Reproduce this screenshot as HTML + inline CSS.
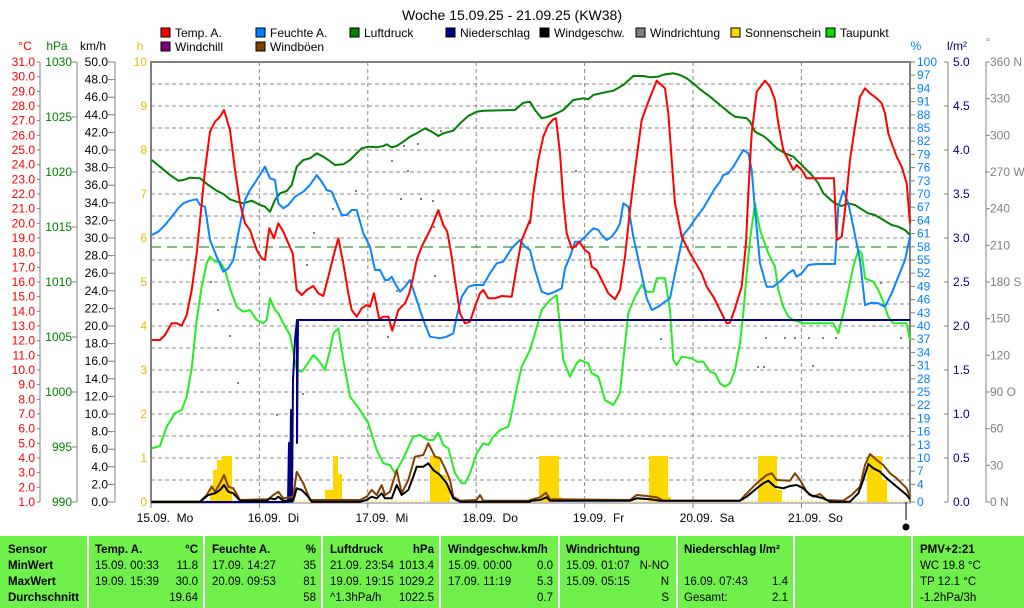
<!DOCTYPE html>
<html><head><meta charset="utf-8"><style>
body{margin:0;background:#fff;width:1024px;height:608px;overflow:hidden;font-family:"Liberation Sans",sans-serif}
svg{position:absolute;left:0;top:0}
text{font-family:"Liberation Sans",sans-serif;font-size:12px}
.b{font-weight:bold}
#tbl text{font-size:11.5px}
</style></head><body>
<svg id="s" width="1024" height="608" xmlns="http://www.w3.org/2000/svg">
<text x="512" y="20" text-anchor="middle" style="font-size:14px">Woche 15.09.25 - 21.09.25 (KW38)</text>
<g id="leg"></g>
<g id="grid"></g>
<g id="axes"></g>
<g id="data"></g>
<rect x="0" y="536" width="1024" height="72" fill="#6FF04B"/>
<g fill="#fff"><rect x="87" y="536" width="2" height="72"/><rect x="203" y="536" width="2" height="72"/><rect x="321" y="536" width="2" height="72"/><rect x="439" y="536" width="2" height="72"/><rect x="558" y="536" width="2" height="72"/><rect x="676" y="536" width="2" height="72"/><rect x="793" y="536" width="2" height="72"/><rect x="911" y="536" width="2" height="72"/></g>
<g id="tbl"></g>
</svg>
<script>
var S=document.getElementById('s'),NS='http://www.w3.org/2000/svg';
function el(p,t,a,txt){var e=document.createElementNS(NS,t);for(var k in a)e.setAttribute(k,a[k]);if(txt!==undefined)e.textContent=txt;document.getElementById(p).appendChild(e);return e;}
function T(p,x,y,s,fill,anchor,cls){return el(p,'text',{x:x,y:y,fill:fill||'#000','text-anchor':anchor||'start','class':cls||''},s);}
var L=[['Temp. A.','#ff0000',161,37],['Feuchte A.','#0080ff',256,37],['Luftdruck','#008000',350,37],['Niederschlag','#000080',446,37],['Windgeschw.','#000000',540,37],['Windrichtung','#808080',636,37],['Sonnenschein','#ffd700',731,37],['Taupunkt','#00e000',826,37],['Windchill','#800080',161,51],['Windböen','#804000',256,51]];
L.forEach(function(l){el('leg','rect',{x:l[2],y:l[3]-9,width:9,height:9,fill:l[1],stroke:'#000','stroke-width':1});T('leg',l[2]+14,l[3],l[0]);});
for(var i=1;i<20;i++){var y=62+i*22;el('grid','line',{x1:151,x2:910,y1:y,y2:y,stroke:'#888','stroke-dasharray':'4,3'});}
for(var d=1;d<7;d++){var x=151+d*108.4;el('grid','line',{x1:x,x2:x,y1:62,y2:502,stroke:'#888','stroke-dasharray':'4,3'});}
el('grid','line',{x1:151,x2:910,y1:247,y2:247,stroke:'#008000','stroke-dasharray':'10,6'});
// wind direction dots
[[210,281],[217,309],[229,335],[237,382],[276,414],[302,393],[306,264],[313,232],[332,208],[355,190],[391,160],[403,145],[417,143],[407,170],[420,198],[432,200],[433,226],[440,130],[400,198],[434,275],[396,290],[387,336],[575,170],[790,158],[660,338],[670,330],[765,337],[784,337],[794,337],[808,337],[822,337],[835,337],[812,365],[900,337],[908,335],[757,366],[763,366],[880,282]].forEach(function(p){el('grid','rect',{x:p[0],y:p[1],width:2,height:2,fill:'#808080'});});
el('axes','path',{d:'M151,502V62H910V502',fill:'none',stroke:'#808080','stroke-width':2});
el('axes','line',{x1:150,x2:911,y1:503,y2:503,stroke:'#808080','stroke-width':1});
T('axes',25,50,'°C','#ff0000','middle');T('axes',57,50,'hPa','#008000','middle');T('axes',93,50,'km/h','#000','middle');T('axes',140,50,'h','#e0c000','middle');
el('axes','line',{x1:40,x2:40,y1:62,y2:502,stroke:'#808080'});
for(var v=31;v>=1;v--){var y=62+(31-v)*440/30;T('axes',35,y+4,v.toFixed(1),'#ff0000','end');el('axes','line',{x1:37,x2:40,y1:y,y2:y,stroke:'#808080'});}
el('axes','line',{x1:77,x2:77,y1:62,y2:502,stroke:'#808080'});
for(var v=1030;v>=990;v-=5){var y=62+(1030-v)*11;T('axes',72,y+4,v,'#008000','end');el('axes','line',{x1:72,x2:77,y1:y,y2:y,stroke:'#808080'});}
el('axes','line',{x1:115,x2:115,y1:62,y2:502,stroke:'#808080'});
for(var v=50;v>=0;v-=2){var y=62+(50-v)*8.8;T('axes',108,y+4,v.toFixed(1),'#000','end');el('axes','line',{x1:108,x2:115,y1:y,y2:y,stroke:'#808080'});}
for(var v=10;v>=0;v--){var y=62+(10-v)*44;T('axes',147,y+4,v,'#e0c000','end');}
T('axes',916,50,'%','#0080ff','middle');T('axes',957,50,'l/m²','#000080','middle');T('axes',988,46,'°','#808080','middle');
var pv=[];for(var v=100;v>=4;v-=3)pv.push(v);pv.push(0);
pv.forEach(function(v){var y=502-v*4.4;T('axes',917,y+4,v,'#0080ff');el('axes','line',{x1:910,x2:915,y1:y,y2:y,stroke:'#808080'});});
el('axes','line',{x1:948,x2:948,y1:62,y2:502,stroke:'#808080'});
for(var v=5;v>=0;v-=0.5){var y=502-v*88;T('axes',953,y+4,v.toFixed(1),'#000080');el('axes','line',{x1:944,x2:948,y1:y,y2:y,stroke:'#808080'});}
el('axes','line',{x1:986,x2:986,y1:62,y2:502,stroke:'#808080'});
var dl={360:'360 N',270:'270 W',180:'180 S',90:'90 O',0:'0 N'};
for(var v=360;v>=0;v-=30){var y=502-v*440/360;T('axes',990,y+4,dl[v]||v,'#808080');el('axes','line',{x1:986,x2:990,y1:y,y2:y,stroke:'#808080'});}
var days=['15.09.  Mo','16.09.  Di','17.09.  Mi','18.09.  Do','19.09.  Fr','20.09.  Sa','21.09.  So'];
days.forEach(function(s,i){var x=151+i*108.4;el('axes','line',{x1:x,x2:x,y1:503,y2:508,stroke:'#808080'});T('axes',x+14,522,s.replace(/  /,'\u00a0\u00a0'),'#000','middle');});
el('axes','line',{x1:906,x2:906,y1:502,y2:520,stroke:'#000'});
el('axes','circle',{cx:906,cy:527,r:3.5,fill:'#000'});
function Z1(a){return a.map(function(p){return (150+p[0]/3).toFixed(1)+','+(60+p[1]/3).toFixed(1)}).join(' ');}
function Z2(a){return a.map(function(p){return (530+p[0]/3).toFixed(1)+','+(60+p[1]/3).toFixed(1)}).join(' ');}
function PL(pts,c,w){el('data','polyline',{points:pts,fill:'none',stroke:c,'stroke-width':w||2,'stroke-linejoin':'round'});}
[[210,485,3],[213,470,4],[217,460,5],[222,456,10],[325,490,8],[333,456,5],[338,474,4],[430,456,10],[440,475,7],[447,485,3],[539,456,20],[559,497,3],[649,456,19],[668,497,3],[758,456,19],[777,490,5],[867,456,15],[882,480,5]].forEach(function(b){el('data','rect',{x:b[0],y:b[1],width:b[2],height:502-b[1],fill:'#ffd700'});});
el('data','line',{x1:151,x2:910,y1:501,y2:501,stroke:'#ffd700','stroke-dasharray':'2,2'});
PL(Z1([[5,1165],[30,1158],[50,1100],[75,1060],[95,1050],[110,1010],[125,925],[140,780],[155,680],[170,610],[180,590],[195,605],[210,605],[225,630],[240,685],[260,740],[280,755],[300,750],[320,780],[340,790],[350,780],[360,715],[375,750],[385,760],[400,790],[420,825],[440,930],[455,935],[470,915],[490,885],[505,900],[525,930],[540,870],[550,820],[565,805],[580,900],[600,1010],[630,1050],[655,1090],[680,1170],[700,1210],[720,1215],[735,1240],[760,1195],[790,1130],[810,1125],[835,1140],[850,1140],[865,1118],[880,1155],[895,1165],[915,1240],[935,1270],[945,1270],[960,1240],[980,1180],[1000,1150],[1015,1155],[1030,1130],[1050,1110],[1075,1100],[1085,1060],[1100,985],[1115,920],[1140,870]])+' '+Z2([[0,870],[15,820],[35,750],[60,720],[80,705],[90,800],[100,900],[120,950],[140,910],[150,900],[175,910],[185,940],[205,950],[225,1020],[250,1035],[270,1000],[280,900],[295,760],[315,710],[335,675],[350,695],[370,695],[380,655],[405,655],[420,750],[430,900],[440,915],[455,890],[485,895],[500,905],[520,905],[540,935],[555,940],[570,970],[585,980],[600,970],[615,930],[630,850],[640,760],[650,640],[660,540],[675,430],[690,510],[715,580],[735,620],[745,690],[760,740],[775,770],[790,780],[820,790],[910,790],[925,820],[940,760],[955,690],[970,620],[985,570],[995,580],[1005,655],[1030,665],[1045,690],[1060,725],[1075,770],[1090,790],[1130,790],[1140,840]]),'#22ee22');
PL(Z1([[5,300],[30,320],[60,345],[85,362],[100,360],[120,353],[150,355],[175,375],[200,392],[220,402],[240,418],[260,425],[280,430],[305,422],[330,435],[345,440],[360,455],[375,420],[390,400],[410,393],[425,375],[440,320],[460,300],[480,295],[500,280],[520,290],[535,300],[555,315],[580,313],[600,300],[615,285],[635,265],[655,260],[680,262],[700,258],[710,253],[725,262],[740,258],[760,245],[780,230],[800,220],[825,205],[845,215],[865,228],[880,220],[910,212],[935,185],[955,168],[980,155],[1000,152],[1095,150],[1120,128],[1140,125]])+' '+Z2([[0,125],[15,150],[35,175],[55,170],[80,160],[100,150],[130,120],[160,115],[175,118],[190,105],[220,98],[250,92],[280,75],[310,48],[340,48],[360,52],[385,50],[400,44],[430,40],[450,45],[470,55],[490,70],[510,88],[540,110],[570,135],[600,160],[615,170],[650,175],[660,185],[675,215],[700,228],[715,240],[740,265],[765,280],[790,290],[810,310],[830,330],[845,345],[865,370],[880,400],[900,418],[915,430],[935,438],[955,430],[975,435],[995,448],[1015,460],[1035,465],[1060,480],[1085,495],[1105,500],[1125,510],[1140,525]]),'#008000');
PL(Z1([[5,525],[25,515],[45,495],[65,470],[85,445],[100,430],[120,422],[140,418],[150,435],[165,440],[180,540],[200,590],[220,635],[235,625],[250,600],[265,520],[285,420],[300,390],[320,360],[345,320],[360,355],[375,360],[385,430],[400,445],[415,435],[435,410],[460,395],[480,375],[500,345],[515,365],[530,390],[545,395],[560,430],[575,465],[590,465],[605,450],[620,450],[640,520],[660,560],[675,630],[690,630],[705,660],[715,660],[725,650],[735,670],[750,695],[765,680],[780,660],[800,720],[820,780],[840,830],[870,835],[890,830],[910,820],[920,770],[935,710],[955,680],[975,675],[1000,675],[1020,640],[1040,610],[1060,605],[1085,565],[1110,540],[1125,560],[1140,570]])+' '+Z2([[0,570],[15,630],[35,695],[55,703],[75,695],[95,685],[105,625],[120,590],[135,545],[150,545],[170,525],[190,505],[205,510],[215,525],[230,540],[245,530],[260,510],[270,490],[280,430],[295,440],[310,530],[330,620],[350,715],[365,750],[385,740],[405,725],[420,715],[435,640],[450,570],[460,525],[480,500],[500,470],[520,445],[540,410],[555,385],[570,365],[580,345],[595,340],[610,320],[625,295],[640,270],[655,280],[665,330],[675,450],[690,610],[710,680],[730,680],[755,660],[775,640],[790,630],[800,650],[815,640],[835,615],[860,612],[915,612],[925,440],[940,392],[955,430],[970,500],[990,600],[1005,735],[1025,728],[1045,730],[1065,740],[1085,700],[1105,650],[1125,600],[1140,530]]),'#0a84ff');
PL(Z1([[5,840],[30,840],[45,825],[65,790],[80,790],[95,797],[110,765],[125,690],[140,580],[155,430],[165,330],[180,215],[195,185],[210,170],[222,150],[240,210],[255,330],[270,430],[285,490],[300,510],[320,570],[335,595],[345,600],[358,505],[372,535],[385,490],[400,515],[415,550],[428,580],[440,690],[455,705],[470,690],[490,678],[505,700],[520,708],[535,650],[550,590],[565,535],[580,610],[595,700],[605,750],[620,770],[635,745],[650,735],[660,740],[672,700],[688,778],[700,770],[715,770],[727,812],[745,750],[765,730],[778,700],[790,650],[800,600],[815,560],[830,530],[845,500],[865,450],[880,495],[892,515],[905,590],[915,660],[930,760],[945,790],[960,785],[975,740],[990,700],[1000,690],[1015,715],[1035,715],[1055,708],[1085,710],[1100,620],[1115,540],[1140,480]])+' '+Z2([[0,490],[10,400],[25,300],[40,230],[55,195],[70,178],[78,175],[90,280],[100,420],[110,520],[125,565],[135,560],[148,545],[165,570],[178,580],[185,620],[200,630],[215,660],[235,700],[255,718],[270,690],[285,590],[300,450],[315,330],[335,180],[355,125],[380,62],[405,85],[415,160],[425,300],[435,430],[455,530],[475,570],[495,605],[515,640],[530,680],[550,710],[570,750],[590,790],[600,788],[615,745],[635,680],[648,550],[655,400],[665,220],[680,95],[705,62],[720,80],[735,120],[745,190],[760,270],[775,300],[790,330],[800,315],[815,330],[830,355],[912,355],[920,540],[935,530],[945,450],[960,300],[975,200],[990,110],[1005,85],[1020,100],[1040,115],[1055,130],[1065,160],[1075,220],[1085,250],[1100,290],[1115,320],[1130,370],[1140,490]]),'#ff0000');
PL('151,502 288,502 289,443 290,502 291,410 292,502 293,380 295,340 297,320 910,320','#000080',2);
PL('297,320 297,443 298,320','#000080',2);
PL(Z1([[5,1325],[150,1325],[170,1305],[185,1280],[195,1295],[210,1270],[222,1245],[235,1280],[250,1285],[270,1320],[355,1318],[370,1305],[385,1295],[400,1315],[430,1310],[440,1235],[460,1270],[480,1320],[630,1320],[650,1310],[665,1290],[680,1305],[695,1275],[705,1305],[720,1295],[740,1230],[755,1300],[775,1260],[795,1190],[820,1185],[835,1150],[855,1190],[870,1195],[885,1225],[900,1260],[910,1310],[930,1322],[980,1320],[990,1305],[1000,1322],[1140,1322]])+' '+Z2([[0,1320],[30,1312],[48,1298],[60,1318],[300,1320],[320,1305],[350,1308],[380,1312],[400,1322],[630,1322],[650,1300],[680,1270],[710,1245],[725,1240],[740,1260],[780,1262],[795,1240],[810,1260],[830,1295],[850,1310],[870,1302],[890,1320],[940,1322],[965,1305],[990,1280],[1005,1215],[1020,1182],[1040,1200],[1060,1215],[1080,1240],[1100,1255],[1130,1285],[1140,1310]]),'#804000');
PL(Z1([[5,1325],[150,1325],[175,1305],[195,1300],[210,1290],[222,1275],[235,1295],[250,1300],[270,1322],[350,1322],[360,1315],[375,1318],[385,1310],[400,1322],[430,1322],[440,1285],[455,1290],[475,1310],[485,1325],[630,1325],[650,1320],[665,1310],[680,1315],[695,1300],[705,1315],[725,1315],[740,1275],[755,1305],[775,1290],[790,1250],[800,1220],[820,1220],[835,1210],[850,1230],[870,1245],[890,1270],[910,1315],[930,1325],[1140,1325]])+' '+Z2([[0,1323],[30,1320],[50,1312],[60,1322],[300,1322],[320,1315],[360,1318],[390,1322],[630,1322],[650,1310],[680,1285],[700,1270],[715,1262],[735,1280],[760,1285],[780,1278],[800,1275],[820,1285],[840,1305],[860,1310],[880,1315],[900,1325],[960,1325],[985,1300],[1000,1260],[1015,1212],[1030,1225],[1050,1235],[1070,1255],[1100,1280],[1130,1305],[1140,1318]]),'#000');
var rows=[549,565,581,597];
['Sensor','MinWert','MaxWert','Durchschnitt'].forEach(function(s,i){T('tbl',8,rows[i]+4,s,'#000','start','b');});
function col(x0,x1,h,u,r){T('tbl',x0,rows[0]+4,h,'#000','start','b');T('tbl',x1,rows[0]+4,u,'#000','end','b');r.forEach(function(rr,i){if(rr[0])T('tbl',x0,rows[i+1]+4,rr[0]);if(rr[1])T('tbl',x1,rows[i+1]+4,rr[1],'#000','end');});}
col(95,198,'Temp. A.','°C',[['15.09. 00:33','11.8'],['19.09. 15:39','30.0'],['','19.64']]);
col(212,316,'Feuchte A.','%',[['17.09. 14:27','35'],['20.09. 09:53','81'],['','58']]);
col(330,434,'Luftdruck','hPa',[['21.09. 23:54','1013.4'],['19.09. 19:15','1029.2'],['^1.3hPa/h','1022.5']]);
col(448,553,'Windgeschw.km/h','',[['15.09. 00:00','0.0'],['17.09. 11:19','5.3'],['','0.7']]);
col(566,669,'Windrichtung','',[['15.09. 01:07','N-NO'],['15.09. 05:15','N'],['','S']]);
col(684,788,'Niederschlag  l/m²','',[['',''],['16.09. 07:43','1.4'],['Gesamt:','2.1']]);
T('tbl',920,rows[0]+4,'PMV+2:21','#000','start','b');T('tbl',920,rows[1]+4,'WC 19.8 °C');T('tbl',920,rows[2]+4,'TP 12.1 °C');T('tbl',920,rows[3]+4,'-1.2hPa/3h');
</script>
</body></html>
